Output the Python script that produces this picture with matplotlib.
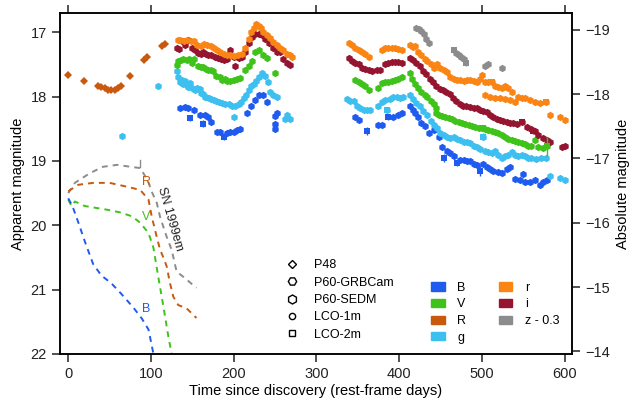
import numpy as np
import matplotlib.pyplot as plt
from matplotlib.lines import Line2D
from matplotlib.patches import Patch

plt.rcParams['font.family'] = ['Liberation Sans', 'DejaVu Sans']

# distance modulus used for the right axis
DM = 35.96

# P48 R-band (early)
R_t = [0, 19, 36, 40, 44, 48, 52, 56, 60, 64, 75, 91, 95, 113, 117]
R_m = [17.67, 17.75, 17.83, 17.85, 17.87, 17.89, 17.9, 17.9, 17.87, 17.83, 17.68, 17.43, 17.38, 17.21, 17.18]

# g band
g_t = [65, 109,
       131, 133, 135, 137, 139, 141, 143, 145, 147, 150, 153, 156, 159, 161, 163, 165, 167, 170, 173,
       176, 179, 182, 186, 190, 194, 198, 202, 206, 209, 212, 215, 218, 221, 224, 227, 230, 234, 238,
       241, 244, 248, 252, 200, 262, 265, 268,
       337, 341, 345, 349, 353, 357, 361, 365, 375, 379, 383, 385, 389, 393, 397, 401, 405, 413, 417,
       421, 425, 429, 434, 438, 442, 446, 450, 454, 458, 462, 466, 470, 474, 478, 482, 486, 490, 494,
       498, 502, 504, 508, 512, 516, 520, 524, 528, 532, 536, 540, 544, 548, 552, 556, 560, 566, 572,
       577, 583, 595, 601]
g_m = [18.61, 17.84,
       17.6, 17.69, 17.77, 17.74, 17.8, 17.76, 17.82, 17.85, 17.79, 17.87, 17.9, 17.86, 17.88, 17.95,
       17.96, 18.0, 18.0, 18.02, 18.03, 18.05, 18.06, 18.08, 18.1, 18.12, 18.12, 18.14, 18.15, 18.12,
       18.08, 18.02, 17.97, 17.9, 17.84, 17.8, 17.75, 17.7, 17.64, 17.68, 17.78, 17.92, 17.97, 18.0,
       18.31, 18.34, 18.29, 18.34,
       18.03, 18.07, 18.06, 18.15, 18.17, 18.21, 18.21, 18.2, 18.14, 18.09, 18.05, 18.21, 18.04, 18.0,
       18.0, 18.02, 18.0, 17.98, 18.04, 18.1, 18.15, 18.22, 18.29, 18.38, 18.44, 18.48, 18.56, 18.6,
       18.62, 18.64, 18.63, 18.66, 18.68, 18.71, 18.7, 18.72, 18.76, 18.78, 18.82, 18.62, 18.84, 18.86,
       18.87, 18.85, 18.9, 18.95, 18.92, 18.9, 18.86, 18.91, 18.93, 18.91, 18.93, 18.95, 18.96, 18.97,
       18.95, 18.96, 19.24, 19.26, 19.29]

# V band
V_t = [131, 133, 136, 139, 143, 146, 149, 152, 157, 160, 163, 166, 169, 172, 175, 179, 183, 186, 189,
       192, 196, 200, 204, 208, 214, 218, 222, 226, 230, 236, 240, 250,
       347, 351, 355, 359, 363, 375, 379, 383, 387, 391, 395, 399, 403, 413, 415, 419, 423, 427, 431,
       434, 438, 442, 444, 444, 448, 452, 456, 460, 464, 468, 472, 476, 480, 484, 488, 492, 496, 500,
       504, 508, 512, 516, 520, 524, 528, 532, 536, 540, 544, 548, 552, 556, 560, 564, 568, 574, 579]
V_m = [17.51, 17.45, 17.43, 17.41, 17.43, 17.42, 17.48, 17.41, 17.53, 17.54, 17.54, 17.57, 17.58,
       17.59, 17.6, 17.68, 17.7, 17.74, 17.72, 17.76, 17.75, 17.74, 17.73, 17.71, 17.58, 17.53, 17.45,
       17.3, 17.27, 17.35, 17.4, 17.63,
       17.74, 17.77, 17.8, 17.83, 17.89, 17.87, 17.79, 17.77, 17.77, 17.76, 17.74, 17.72, 17.7, 17.63,
       17.72, 17.8, 17.86, 17.92, 17.97, 18.0, 18.06, 18.12, 18.18, 18.26, 18.28, 18.3, 18.32, 18.33,
       18.35, 18.38, 18.39, 18.41, 18.43, 18.44, 18.45, 18.47, 18.48, 18.49, 18.5, 18.52, 18.54, 18.55,
       18.56, 18.6, 18.63, 18.66, 18.68, 18.69, 18.7, 18.72, 18.74, 18.76, 18.77, 18.67, 18.79, 18.8,
       18.77]

# i band
i_t = [131, 134, 137, 141, 145, 149, 153, 157, 160, 163, 166, 169, 173, 177, 181, 185, 188, 192, 196,
       200, 202, 206, 210, 214, 218, 222, 226, 230, 234, 238, 243, 248, 252, 256, 260, 264, 268,
       339, 343, 347, 351, 355, 359, 363, 367, 373, 377, 383, 387, 391, 395, 399, 403, 413, 417, 421,
       425, 429, 433, 437, 441, 445, 449, 453, 457, 461, 465, 469, 473, 477, 481, 486, 490, 494, 498,
       502, 506, 510, 514, 518, 522, 526, 530, 534, 538, 542, 548, 554, 560, 564, 568, 574, 579, 583,
       597, 601]
i_m = [17.25, 17.26, 17.14, 17.2, 17.12, 17.25, 17.28, 17.32, 17.33, 17.31, 17.33, 17.35, 17.35,
       17.38, 17.4, 17.41, 17.43, 17.42, 17.27, 17.38, 17.53, 17.4, 17.39, 17.3, 17.17, 17.08, 17.03,
       17.02, 17.04, 17.1, 17.17, 17.25, 17.3, 17.3, 17.42, 17.48, 17.51,
       17.4, 17.44, 17.48, 17.5, 17.55, 17.57, 17.59, 17.6, 17.59, 17.58, 17.49, 17.47, 17.46, 17.46,
       17.46, 17.48, 17.4, 17.43, 17.48, 17.53, 17.6, 17.65, 17.72, 17.78, 17.84, 17.88, 17.9, 17.92,
       17.96, 18.02, 18.07, 18.12, 18.14, 18.15, 18.16, 18.17, 18.18, 18.2, 18.22, 18.24, 18.28, 18.32,
       18.34, 18.36, 18.38, 18.4, 18.41, 18.41, 18.43, 18.39, 18.47, 18.5, 18.53, 18.6, 18.64, 18.67,
       18.7, 18.78, 18.76]

# r band
r_t = [133, 135, 140, 144, 148, 152, 156, 160, 164, 168, 172, 176, 180, 184, 188, 192, 196, 200, 205,
       210, 214, 218, 221, 224, 227, 230, 233, 236, 240, 244, 248, 252, 256, 260, 264, 268, 270,
       339, 343, 347, 351, 355, 359, 363, 379, 383, 387, 391, 395, 399, 403, 413, 417, 419, 423, 427,
       431, 434, 438, 442, 446, 450, 454, 458, 462, 466, 470, 474, 478, 482, 486, 490, 494, 498, 500,
       504, 508, 512, 516, 520, 524, 528, 532, 536, 504, 510, 516, 522, 528, 534, 540, 544, 548, 552,
       558, 564, 570, 578, 583, 595, 601]
r_m = [17.12, 17.12, 17.13, 17.12, 17.13, 17.14, 17.2, 17.21, 17.18, 17.2, 17.22, 17.24, 17.27, 17.3,
       17.33, 17.35, 17.36, 17.37, 17.35, 17.33, 17.24, 17.1, 17.0, 16.93, 16.87, 16.9, 16.93, 17.0,
       17.04, 17.09, 17.15, 17.2, 17.25, 17.28, 17.33, 17.36, 17.38,
       17.17, 17.2, 17.24, 17.28, 17.31, 17.34, 17.38, 17.27, 17.25, 17.25, 17.25, 17.25, 17.26, 17.27,
       17.2, 17.23, 17.22, 17.3, 17.35, 17.42, 17.45, 17.5, 17.55, 17.49, 17.55, 17.58, 17.62, 17.7,
       17.72, 17.74, 17.74, 17.75, 17.74, 17.74, 17.76, 17.77, 17.73, 17.66, 17.77, 17.78, 17.78,
       17.83, 17.85, 17.87, 17.84, 17.86, 17.92, 17.97, 18.0, 18.02, 18.02, 18.04, 18.05, 18.08, 18.0,
       18.02, 18.02, 18.05, 18.08, 18.1, 18.08, 18.28, 18.31, 18.36]

# B band
B_t = [135, 141, 145, 152, 159, 165, 169, 173, 180, 184, 192, 196, 200, 204, 208, 216, 221, 226, 230,
       236, 240, 250, 250, 250, 252,
       347, 351, 375, 379, 393, 399, 403, 413, 417, 419, 423, 427, 431, 436, 442, 448, 452, 458, 462,
       466, 474, 478, 482, 486, 490, 494, 502, 506, 510, 514, 520, 524, 530, 534, 540, 546, 550, 552,
       558, 564, 570, 574, 579]
B_m = [18.18, 18.16, 18.18, 18.2, 18.28, 18.28, 18.31, 18.39, 18.55, 18.55, 18.57, 18.55, 18.55,
       18.52, 18.5, 18.25, 18.15, 18.05, 17.97, 17.97, 18.08, 18.3, 18.42, 18.5, 18.25,
       18.31, 18.36, 18.44, 18.44, 18.31, 18.28, 18.26, 18.15, 18.2, 18.26, 18.31, 18.41, 18.46,
       18.57, 18.52, 18.62, 18.78, 18.85, 18.88, 18.93, 18.98, 18.98, 19.0, 19.0, 19.05, 19.07, 19.04,
       19.1, 19.12, 19.15, 19.17, 19.19, 19.13, 19.1, 19.28, 19.3, 19.2, 19.32, 19.32, 19.3, 19.37,
       19.33, 19.29]

# z band (shifted by -0.3)
z_t = [421, 424, 427, 430, 433, 436, 469, 472, 475, 478, 504, 507, 524]
z_m = [16.93, 16.95, 16.98, 17.03, 17.1, 17.16, 17.32, 17.35, 17.38, 17.42, 17.53, 17.5, 17.56]

# points with error bars
Berr_t = [147, 163, 188, 361, 387, 454, 470, 498]
Berr_m = [18.33, 18.42, 18.62, 18.53, 18.32, 18.95, 19.03, 19.16]
Berr_e = [0.05, 0.05, 0.05, 0.06, 0.04, 0.06, 0.05, 0.08]
gerr_t = [385, 502]
gerr_m = [18.21, 18.62]
gerr_e = [0.05, 0.06]
Verr_t = [502, 579]
Verr_m = [18.49, 18.77]
Verr_e = [0.04, 0.15]
rerr_t = [512, 578]
rerr_m = [17.77, 18.08]
rerr_e = [0.04, 0.04]
ierr_t = [548, 562]
ierr_m = [18.39, 18.54]
ierr_e = [0.04, 0.04]
zerr_t = [466, 481]
zerr_m = [17.28, 17.48]
zerr_e = [0.04, 0.04]

# SN 1999em template curves
tB_t = [0, 5, 12, 20, 30, 40, 52, 63, 72, 80, 89, 97, 103]
tB_m = [19.58, 19.7, 19.95, 20.25, 20.6, 20.78, 20.9, 21.05, 21.18, 21.3, 21.45, 21.62, 22.0]
tV_t = [0, 4, 8, 20, 34, 48, 63, 77, 87, 97, 103, 108, 115, 121, 125]
tV_m = [19.6, 19.7, 19.63, 19.7, 19.73, 19.76, 19.8, 19.86, 19.96, 20.12, 20.35, 20.74, 21.26, 21.73, 22.0]
tR_t = [0, 12, 30, 50, 71, 87, 97, 101, 107, 111, 115, 119, 123, 127, 133, 143, 155]
tR_m = [19.47, 19.37, 19.34, 19.34, 19.4, 19.45, 19.6, 19.87, 20.18, 20.38, 20.5, 20.64, 20.9, 21.11, 21.24, 21.29, 21.44]
tI_t = [0, 8, 26, 42, 59, 75, 87, 96, 101, 107, 111, 119, 125, 131, 141, 151, 155]
tI_m = [19.5, 19.34, 19.19, 19.09, 19.06, 19.09, 19.11, 19.3, 19.48, 19.65, 19.87, 20.18, 20.38, 20.72, 20.82, 20.93, 20.97]

cB = '#1f5bef'
cV = '#3fc21a'
cR = '#c9590c'
cg = '#3dbff0'
cr = '#fa8414'
ci = '#951530'
cz = '#8c8c8c'

fig = plt.figure(figsize=(6.4, 4.03), dpi=100)
ax = fig.add_axes([0.09375, 0.1216, 0.8, 0.8461])

# templates
dash = dict(ls=(0, (3, 2.6)), lw=1.4)
ax.plot(tI_t, tI_m, color=cz, **dash)
ax.plot(tR_t, tR_m, color=cR, **dash)
ax.plot(tV_t, tV_m, color=cV, **dash)
ax.plot(tB_t, tB_m, color=cB, **dash)
ax.plot([87, 87], [18.98, 19.1], color=cz, lw=1)
ax.text(89, 21.3, 'B', color=cB, fontsize=9, ha='left', va='center')
ax.text(89, 19.87, 'V', color=cV, fontsize=9, ha='left', va='center')
ax.text(89, 19.33, 'R', color=cR, fontsize=9, ha='left', va='center')
ax.text(123, 19.9, 'SN 1999em', fontsize=9, color='#222222', rotation=-74,
        ha='center', va='center', rotation_mode='anchor')

ms = 5.3
ax.plot(R_t, R_m, 'D', color=cR, ms=4.4, mew=0)
for t, m, c in [(B_t, B_m, cB), (g_t, g_m, cg), (V_t, V_m, cV),
                (i_t, i_m, ci), (r_t, r_m, cr), (z_t, z_m, cz)]:
    ax.plot(t, m, 'h', color=c, ms=ms, mew=0)

for t, m, e, c in [(Berr_t, Berr_m, Berr_e, cB), (gerr_t, gerr_m, gerr_e, cg),
                   (Verr_t, Verr_m, Verr_e, cV), (rerr_t, rerr_m, rerr_e, cr),
                   (ierr_t, ierr_m, ierr_e, ci), (zerr_t, zerr_m, zerr_e, cz)]:
    ax.errorbar(t, m, yerr=e, fmt='s', color=c, ms=4.4, mew=0, elinewidth=1, capsize=2)

ax.set_xlim(-10, 609)
ax.set_ylim(22, 16.7)
ax.set_xticks([0, 100, 200, 300, 400, 500, 600])
ax.set_yticks([17, 18, 19, 20, 21, 22])
ax.tick_params(direction='out', length=6, width=1.1, labelsize=10.5, top=True, colors='#222222')
ax.set_xlabel('Time since discovery (rest-frame days)', fontsize=10.5, labelpad=2)
ax.set_ylabel('Apparent magnitude', fontsize=10.5, labelpad=4)
for s in ax.spines.values():
    s.set_linewidth(1.1)

ax2 = ax.twinx()
ax2.set_ylim(22 - DM, 16.7 - DM)
ax2.set_yticks([-19, -18, -17, -16, -15, -14])
ax2.tick_params(direction='out', length=6, width=1.1, labelsize=10.5, colors='#222222')
ax2.set_ylabel('Absolute magnitude', fontsize=10.5, labelpad=4)
for s in ax2.spines.values():
    s.set_linewidth(1.1)

# instrument legend
inst = [('P48', 'D', 4.5), ('P60-GRBCam', 'H', 6), ('P60-SEDM', 'h', 6.5),
        ('LCO-1m', 'o', 4.5), ('LCO-2m', 's', 4.5)]
h1 = [Line2D([], [], ls='none', marker=mk, ms=s, mfc='none', mec='k', mew=1) for _, mk, s in inst]
leg1 = ax.legend(h1, [n for n, _, _ in inst], loc='upper left', bbox_to_anchor=(0.428, 0.296),
                 frameon=False, fontsize=9, handlelength=1.0, handletextpad=1.3,
                 labelspacing=0.43, borderpad=0)
ax.add_artist(leg1)

# filter legend
bands = [('B', cB), ('V', cV), ('R', cR), ('g', cg), ('r', cr), ('i', ci), ('z - 0.3', cz)]
h2 = [Patch(color=c) for _, c in bands]
ax.legend(h2, [n for n, _ in bands], loc='upper left', bbox_to_anchor=(0.712, 0.23),
          frameon=False, fontsize=9, ncol=2, handlelength=1.1, handleheight=0.65,
          handletextpad=1.0, labelspacing=0.37, columnspacing=2.6, borderpad=0)

fig.savefig('out.png', dpi=100)
